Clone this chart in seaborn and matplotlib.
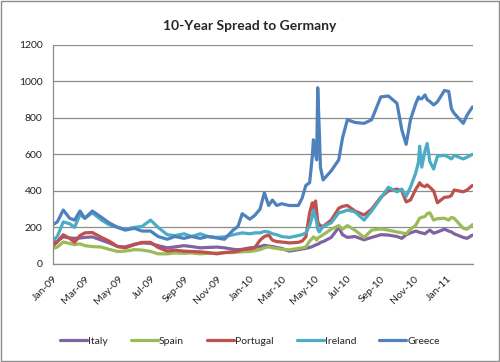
import pandas as pd
import matplotlib
matplotlib.use("Agg")
import matplotlib.pyplot as plt
import matplotlib.dates as mdates
from matplotlib.patches import Rectangle
import seaborn as sns

# sample dates (denser around the May 2010 spike)
dates = [
    "2009-01-01", "2009-01-09", "2009-01-20", "2009-02-01", "2009-02-10", "2009-02-20",
    "2009-03-01", "2009-03-15", "2009-04-01", "2009-04-15", "2009-05-01", "2009-05-15",
    "2009-06-01", "2009-06-15", "2009-07-01", "2009-07-15", "2009-08-01", "2009-08-15",
    "2009-09-01", "2009-09-15", "2009-10-01", "2009-10-15", "2009-11-01", "2009-11-15",
    "2009-12-01", "2009-12-10", "2009-12-18", "2010-01-01", "2010-01-10", "2010-01-20",
    "2010-01-28", "2010-02-05", "2010-02-12", "2010-02-20", "2010-03-01", "2010-03-15",
    "2010-04-01", "2010-04-08", "2010-04-15", "2010-04-22", "2010-04-27", "2010-04-29",
    "2010-05-03", "2010-05-05", "2010-05-07", "2010-05-10", "2010-05-12", "2010-05-17",
    "2010-06-01", "2010-06-15", "2010-06-22", "2010-07-01", "2010-07-15", "2010-08-01",
    "2010-08-15", "2010-09-01", "2010-09-15", "2010-10-01", "2010-10-10", "2010-10-18",
    "2010-10-26", "2010-11-05", "2010-11-10", "2010-11-12", "2010-11-16", "2010-11-22",
    "2010-11-26", "2010-12-01", "2010-12-08", "2010-12-15", "2010-12-28", "2011-01-05",
    "2011-01-10", "2011-01-15", "2011-02-01", "2011-02-08", "2011-02-18",
]

italy = [
    115, 125, 148, 142, 140, 142,
    145, 148, 130, 115, 95, 93,
    108, 115, 112, 100, 88, 93,
    100, 95, 88, 90, 92, 88,
    80, 78, 80, 88, 90, 95,
    102, 98, 95, 90, 85, 70,
    78, 82, 85, 90, 95, 98,
    104, 105, 108, 112, 118, 122,
    145, 200, 160, 145, 150, 132,
    145, 160, 158, 150, 140, 160,
    170, 180, 175, 172, 170, 165,
    175, 185, 168, 175, 190, 180,
    175, 165, 145, 140, 158,
]

spain = [
    85, 92, 120, 112, 105, 110,
    100, 95, 92, 80, 68, 70,
    78, 76, 68, 55, 55, 60,
    58, 60, 55, 58, 60, 62,
    62, 65, 66, 68, 72, 78,
    88, 93, 88, 85, 80, 77,
    85, 88, 92, 125, 140, 148,
    140, 130, 140, 148, 150, 160,
    190, 210, 190, 210, 185, 145,
    185, 192, 185, 175, 170, 165,
    190, 212, 240, 250, 255, 260,
    275, 280, 240, 248, 250, 240,
    255, 250, 195, 190, 215,
]

portugal = [
    100, 120, 160, 140, 118, 155,
    170, 172, 145, 125, 95, 88,
    105, 118, 118, 90, 70, 75,
    70, 68, 66, 62, 55, 62,
    66, 70, 78, 82, 88, 130,
    150, 158, 130, 122, 120, 115,
    118, 125, 148, 280, 335, 300,
    345, 290, 230, 215, 210, 205,
    240, 305, 315, 320, 290, 268,
    300, 365, 400, 410, 400, 340,
    350, 410, 433, 445, 430, 423,
    433, 420, 400, 335, 365, 367,
    375, 405, 395, 405, 430,
]

ireland = [
    130, 150, 230, 220, 200, 270,
    250, 280, 240, 215, 200, 190,
    200, 205, 240, 200, 160, 155,
    165, 150, 165, 150, 145, 148,
    160, 165, 170, 165, 170, 170,
    178, 175, 165, 160, 150, 145,
    155, 160, 170, 210, 260, 295,
    255, 230, 190, 175, 185, 205,
    225, 280, 285, 295, 285, 240,
    290, 360, 420, 395, 410, 370,
    420, 500, 560, 645, 530, 620,
    660, 560, 520, 590, 595, 585,
    575, 595, 575, 585, 600,
]

greece = [
    215, 230, 295, 250, 240, 290,
    250, 290, 255, 225, 200, 185,
    195, 180, 180, 150, 135, 150,
    140, 150, 140, 150, 142, 135,
    185, 205, 275, 245, 265, 300,
    390, 320, 350, 320, 330, 320,
    320, 360, 430, 445, 590, 680,
    600, 570, 965, 720, 530, 460,
    510, 570, 690, 790, 775, 770,
    790, 915, 920, 880, 734, 655,
    790, 880, 915, 905, 905, 926,
    900, 890, 871, 888, 950, 945,
    850, 825, 770, 815, 860,
]

countries = ["Italy", "Spain", "Portugal", "Ireland", "Greece"]
colors = {
    "Italy": "#8064A2",
    "Spain": "#9BBB59",
    "Portugal": "#C0504D",
    "Ireland": "#4BACC6",
    "Greece": "#4F81BD",
}

series = {"Italy": italy, "Spain": spain, "Portugal": portugal,
          "Ireland": ireland, "Greece": greece}
frames = []
for name in countries:
    frames.append(pd.DataFrame({"Date": pd.to_datetime(dates),
                                "Spread": series[name], "Country": name}))
df = pd.concat(frames, ignore_index=True)

sns.set_style("white")
plt.rcParams["font.family"] = ["Lato", "DejaVu Sans"]

fig = plt.figure(figsize=(5, 3.62), dpi=100)
ax = fig.add_axes([0.106, 0.271, 0.84, 0.605])

sns.lineplot(data=df, x="Date", y="Spread", hue="Country", hue_order=countries,
             palette=colors, linewidth=2.3, ax=ax)

ax.set_ylim(0, 1200)
ax.set_yticks(range(0, 1201, 200))
ax.set_xlim(pd.Timestamp("2009-01-01"), pd.Timestamp("2011-02-19"))
ax.xaxis.set_major_locator(mdates.MonthLocator(bymonth=[1, 3, 5, 7, 9, 11]))
ax.xaxis.set_major_formatter(mdates.DateFormatter("%b-%y"))
ax.grid(axis="y", color="#8C8C8C", linewidth=0.9)
ax.grid(axis="x", visible=False)
for side in ["top", "right"]:
    ax.spines[side].set_visible(False)
for side in ["left", "bottom"]:
    ax.spines[side].set_color("#8C8C8C")
    ax.spines[side].set_linewidth(0.9)
ax.tick_params(axis="both", direction="out", length=4, color="#8C8C8C",
               labelsize=7.5, labelcolor="#222222")
plt.setp(ax.get_xticklabels(), rotation=45, ha="right", rotation_mode="anchor")
ax.set_xlabel("")
ax.set_ylabel("")

ax.legend(loc="center", bbox_to_anchor=(0.5, 0.058), bbox_transform=fig.transFigure,
          ncol=5, frameon=False, fontsize=7.5, handlelength=2.6, handletextpad=0.1,
          columnspacing=2.2)

fig.suptitle("10-Year Spread to Germany", y=0.945, fontsize=10, fontweight="bold")
fig.patches.append(Rectangle((0.002, 0.003), 0.995, 0.993, transform=fig.transFigure,
                             fill=False, edgecolor="#8C8C8C", linewidth=1))

fig.savefig("out.png", dpi=100)
